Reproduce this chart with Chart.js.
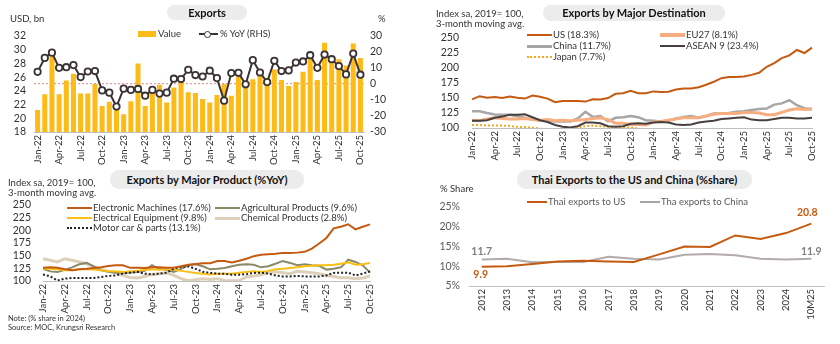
<!DOCTYPE html>
<html>
<head>
<meta charset="utf-8">
<script src="https://cdn.jsdelivr.net/npm/chart.js@4.4.1/dist/chart.umd.min.js"></script>
<style>
  body { margin: 0; width: 840px; height: 344px; background: #fff; position: relative; overflow: hidden; font-family: Lato, sans-serif; color: #222; }
  canvas { position: absolute; }
  .pill { position: absolute; background: #ececec; border-radius: 9px; font-weight: bold; font-size: 11px; text-align: center; color: #111; }
  .t { position: absolute; white-space: nowrap; font-size: 9.5px; line-height: 12px; color: #333; }
  .sw { position: absolute; }
</style>
</head>
<body>
<canvas id="c1" width="400" height="170" style="left:0;top:0"></canvas>
<canvas id="c2" width="420" height="170" style="left:420px;top:0"></canvas>
<canvas id="c3" width="400" height="179" style="left:0;top:165px"></canvas>
<canvas id="c4" width="420" height="179" style="left:420px;top:165px"></canvas>

<div class="pill" style="left:167px;top:5px;width:80px;height:15px;line-height:15px">Exports</div>
<div class="pill" style="left:543px;top:5px;width:182px;height:16px;line-height:16px">Exports by Major Destination</div>
<div class="pill" style="left:110px;top:170px;width:194px;height:19px;line-height:19px">Exports by Major Product (%YoY)</div>
<div class="pill" style="left:517px;top:170px;width:235px;height:19px;line-height:19px">Thai Exports to the US and China (%share)</div>

<div id="legends"></div>

<script>
// ---- categories ----
const months = ['Jan-22','Feb-22','Mar-22','Apr-22','May-22','Jun-22','Jul-22','Aug-22','Sep-22','Oct-22','Nov-22','Dec-22',
  'Jan-23','Feb-23','Mar-23','Apr-23','May-23','Jun-23','Jul-23','Aug-23','Sep-23','Oct-23','Nov-23','Dec-23',
  'Jan-24','Feb-24','Mar-24','Apr-24','May-24','Jun-24','Jul-24','Aug-24','Sep-24','Oct-24','Nov-24','Dec-24',
  'Jan-25','Feb-25','Mar-25','Apr-25','May-25','Jun-25','Jul-25','Aug-25','Sep-25','Oct-25']
const years = ['2012','2013','2014','2015','2016','2017','2018','2019','2020','2021','2022','2023','2024','10M25']

// ---- Exports (USD bn, %YoY) ----
const exportValue = [21.2,23.5,29.0,23.5,25.5,26.5,23.6,23.6,25.0,21.8,22.4,21.4,
  20.6,22.5,28.0,21.8,23.9,24.9,22.3,24.5,25.3,23.8,23.7,22.8,
  22.3,23.4,25.0,23.3,26.1,24.8,25.7,26.3,24.9,27.1,25.6,24.7,
  25.3,26.8,28.7,25.6,31.0,28.2,28.6,27.7,30.9,28.8]
const exportYoY = [7.6,16.3,19.6,10.1,10.5,11.8,4.3,7.8,8.1,-4.0,-5.4,-14.1,
  -2.9,-3.7,-3.1,-7.3,-3.7,-6.0,-5.4,3.3,3.1,8.9,5.6,4.7,
  8.3,3.7,-10.4,6.8,7.0,-0.2,14.9,7.2,1.2,14.5,8.1,8.5,
  13.4,14.1,18.0,10.1,18.4,15.5,11.2,6.0,19.0,5.8]

// ---- Exports by destination (index, 3mma) ----
const destUS = [147.6,153,150.4,151.5,150,152.6,150.4,149,154,152,149,143,
  145,145,145,144,148,147.6,150,157,158,162,158,158,
  161,160,160.5,164,166,166,168,172,177,183,185,185,
  186,188.5,192,202,208,216.4,221,230,225,234]
const destEU = [113,112,115,117,116,115,115,116,114,113,114,112,
  113,112,113,114,116,117,114,108,108,106,106,105,
  110,111,113,115,117,117,117,120,123,124,124,124,
  126,126,125,122,122,126,130,132,131,132]
const destChina = [128,128,125,122.4,122,122,119.6,117,114,113,113,111,
  111,111,116,127,118.5,120,111,117,118,120,118,113,
  112,111,112,116,118.5,120,117,120,124,124,125,127,
  128,130,131.6,132.5,139,141,146.5,138,133,131]
const destASEAN = [112,112,113,117,119,122,122,123,118,113,110,105,
  102,101,103,109,109,108,103,102,103,107,108,107,
  109,110,109,106,105,106,109,111,112,115,116,117,
  118,114,113,113,115,117,117,116,116,117]
const destJapan = [105,105,104,104,104,103.5,102,101.5,100.5,99,98,97,
  96,97,100.5,103,104,103,102,101,101,101,99,97,
  96,95,95,95,95,95,95,95,95,95,95,95,
  95,95,95,95,95,95,95,95,95,95]

// ---- Exports by product (index, 3mma) ----
const prodElectronic = [126,127,126,123,121,123,124,125.6,127,129.7,131,131,
  126,126,125.6,127,127,126,126,129,132,133.7,135,135,
  139.6,139.6,136.5,140,144,149,152,153,154,155.5,155.5,156,
  157.5,164,174,185,204,207,212,202,207,211.7]
const prodAgri = [124,119,118,122,127,133,135.7,129,121,118,116.5,116,
  117,118,120,131,124,122,118,124,131,133,129,123,
  124,125.6,129,132,133,132,127,129,134,139.6,135.7,131,
  133,131,130,122.5,124,127,142,137.6,131,116.5]
const prodElectrical = [124,124,123,121,121,123,123,122.5,121,119,119,118,
  119,120,122,123,122,123,122,120,118,116,114.5,113,
  114.5,114.5,114.5,116.5,118,119,118,120,123,124,125.6,127,
  129,130,131,131,132,134,137,132,133,135.7]
const prodChemical = [144,141,137.6,144,141,137.6,134,127.7,123,119,116,111,
  107,106,109,113,114.5,116,111,104.6,100.6,102.6,104.6,103,
  104.6,101,100.6,101,108,110,112.5,116.5,118,116.5,114.5,119,
  118,116.5,114.5,111,109,106.6,106.6,104.6,106,110]
const prodMotor = [113,109,101,104.6,106,106,106,106,108,110,111,114.5,
  116.5,118,114.5,113,114.5,116.5,124,127.7,129,124,118,116,
  114.5,114.5,112.5,112.5,113.5,116,116.5,114.5,111,109,109,110,
  109,109,109,111,116,116.5,116.5,111,114.5,119]

// ---- Share of Thai exports (%) ----
const shareUS = [9.9,10.0,10.6,11.2,11.4,11.2,11.1,13.0,15.0,14.9,17.8,16.9,18.4,20.8]
const shareChina = [11.7,11.9,11.0,11.1,11.1,12.4,11.9,11.7,12.9,13.1,12.8,11.9,11.7,11.9]

const FONT = 'Lato'
const C = {
  bar: '#fdbb17', yoy: '#3a3234', us: '#c55a11', eu: '#f6ad80', china: '#a6a6a6',
  asean: '#47403f', japan: '#f4a81d', electronic: '#c55a11', agri: '#8b8a68',
  electrical: '#fbbf14', chemical: '#ddd0b8', motor: '#222', axis: '#bfbfbf', tick: '#333'
}

Chart.defaults.font.family = FONT
Chart.defaults.animation = false
Chart.defaults.responsive = false
Chart.defaults.devicePixelRatio = 1
Chart.defaults.plugins.legend.display = false
Chart.defaults.plugins.tooltip.enabled = false

// ---- html legend + labels ----
const L = document.getElementById('legends')
function text(x, y, s, css) {
  const d = document.createElement('div')
  d.className = 't'
  d.style.left = x + 'px'
  d.style.top = (y - 6) + 'px'
  d.textContent = s
  if (css) d.style.cssText += css
  L.appendChild(d)
}
function swatch(x, y, w, color, thick, dotted) {
  const d = document.createElement('div')
  d.className = 'sw'
  d.style.left = x + 'px'
  d.style.top = (y - thick / 2) + 'px'
  d.style.width = w + 'px'
  if (dotted) {
    d.style.height = '0'
    d.style.borderTop = thick + 'px dotted ' + color
  } else {
    d.style.height = thick + 'px'
    d.style.background = color
  }
  L.appendChild(d)
}

// panel 1
text(10, 19, 'USD, bn')
text(378, 19, '%')
swatch(138, 34, 18, C.bar, 6)
text(158, 34, 'Value')
swatch(199, 34, 19, C.yoy, 2)
const mk = document.createElement('div')
mk.style.cssText = 'position:absolute;left:203.5px;top:30.5px;width:5px;height:5px;border:1.8px solid ' + C.yoy + ';border-radius:50%;background:#fff'
L.appendChild(mk)
text(220, 34, '% YoY (RHS)')

// panel 2
text(436, 14, 'Index sa, 2019= 100,')
text(436, 24, '3-month moving avg.')
swatch(527, 35, 25, C.us, 2)
text(553, 35, 'US (18.3%)')
swatch(527, 46, 25, C.china, 3)
text(553, 46, 'China (11.7%)')
swatch(527, 57, 25, C.japan, 2, true)
text(553, 57, 'Japan (7.7%)')
swatch(660, 35, 25, C.eu, 4)
text(686, 35, 'EU27 (8.1%)')
swatch(660, 46, 25, C.asean, 2)
text(686, 46, 'ASEAN 9 (23.4%)')

// panel 3
text(8, 183, 'Index sa, 2019= 100,')
text(8, 193, '3-month moving avg.')
swatch(67, 208, 25, C.electronic, 2)
text(93, 208, 'Electronic Machines (17.6%)')
swatch(67, 218, 25, C.electrical, 2)
text(93, 218, 'Electrical Equipment (9.8%)')
swatch(67, 228, 25, C.motor, 2, true)
text(93, 228, 'Motor car & parts (13.1%)')
swatch(215, 208, 25, C.agri, 2)
text(241, 208, 'Agricultural Products (9.6%)')
swatch(215, 218, 25, C.chemical, 3)
text(241, 218, 'Chemical Products (2.8%)')
text(8, 319, 'Note: (% share in 2024)', 'font-size:7.5px')
text(8, 328, 'Source: MOC, Krungsri Research', 'font-size:7.5px')

// panel 4
text(440, 189, '% Share')
swatch(527, 202, 20, C.us, 2)
text(548, 202, 'Thai exports to US', 'color:#595959')
swatch(640, 202, 20, C.china, 2)
text(661, 202, 'Tha exports to China', 'color:#595959')

// ---- shared axis pieces ----
function xAxis(height, every, labels, offset) {
  return {
    offset: offset,
    grid: { display: false, drawTicks: false },
    border: { color: C.axis },
    ticks: {
      autoSkip: false, minRotation: 90, maxRotation: 90, padding: 3,
      color: C.tick, font: { size: 9.5 },
      callback: (v, i) => (i % every === 0 ? labels[i] : null)
    },
    afterFit: s => { s.height = height }
  }
}
function yAxis(min, max, step, width, pad, extra) {
  return Object.assign({
    min: min, max: max,
    grid: { display: false, drawTicks: false },
    border: { display: false },
    ticks: { autoSkip: false, stepSize: step, padding: pad, color: C.tick, font: { size: 10.5 } },
    afterFit: s => { s.width = width }
  }, extra || {})
}
function line(data, color, width, dash) {
  return {
    type: 'line', data: data, borderColor: color, borderWidth: width,
    borderDash: dash || [], pointRadius: 0, tension: 0, fill: false
  }
}

// ---- Exports ----
new Chart(document.getElementById('c1'), {
  data: {
    labels: months,
    datasets: [
      {
        type: 'line', data: exportYoY, yAxisID: 'yR', order: 0,
        borderColor: C.yoy, borderWidth: 2,
        pointRadius: 3.2, pointBorderWidth: 1.8,
        pointBackgroundColor: '#fff', pointBorderColor: C.yoy
      },
      {
        type: 'bar', data: exportValue, yAxisID: 'yL', order: 1,
        backgroundColor: C.bar, barPercentage: 0.7, categoryPercentage: 1
      }
    ]
  },
  options: {
    layout: { padding: { top: 36, left: 0, right: 10, bottom: 0 } },
    scales: {
      x: xAxis(38, 3, months, true),
      yL: yAxis(18, 32, 2, 34, 8, { position: 'left' }),
      yR: yAxis(-30, 30, 10, 26, 6, {
        position: 'right',
        grid: {
          drawTicks: false, lineWidth: 1.2,
          color: c => (c.tick && c.tick.value === 0 ? '#e39a9a' : 'rgba(0,0,0,0)')
        },
        border: { display: false, dash: [2, 2] }
      })
    }
  }
})

// ---- Exports by Major Destination ----
new Chart(document.getElementById('c2'), {
  type: 'line',
  data: {
    labels: months,
    datasets: [
      line(destUS, C.us, 2),
      line(destASEAN, C.asean, 2),
      line(destEU, C.eu, 3),
      line(destChina, C.china, 2.5),
      line(destJapan, C.japan, 2, [2, 2])
    ]
  },
  options: {
    layout: { padding: { top: 38, left: 0, right: 28, bottom: 0 } },
    scales: {
      x: xAxis(42, 3, months, false),
      y: yAxis(100, 250, 25, 52, 13)
    }
  }
})

// ---- Exports by Major Product ----
new Chart(document.getElementById('c3'), {
  type: 'line',
  data: {
    labels: months,
    datasets: [
      line(prodElectronic, C.electronic, 2),
      line(prodMotor, C.motor, 2, [2, 2]),
      line(prodElectrical, C.electrical, 2),
      line(prodAgri, C.agri, 2),
      line(prodChemical, C.chemical, 3)
    ]
  },
  options: {
    layout: { padding: { top: 40, left: 0, right: 30, bottom: 0 } },
    scales: {
      x: xAxis(63, 3, months, false),
      y: yAxis(100, 250, 25, 43, 12)
    }
  }
})

// ---- Thai exports share ----
const endLabels = {
  id: 'endLabels',
  afterDatasetsDraw(chart, args, opts) {
    const ctx = chart.ctx
    ctx.save()
    ctx.font = 'bold 10.5px ' + FONT
    ctx.textAlign = 'center'
    ctx.textBaseline = 'middle'
    opts.items.forEach(it => {
      const ds = chart.data.datasets[it.ds]
      const pt = chart.getDatasetMeta(it.ds).data[it.i]
      ctx.fillStyle = it.color
      ctx.fillText(ds.data[it.i].toFixed(1), pt.x + it.dx, pt.y + it.dy)
    })
    ctx.restore()
  }
}
new Chart(document.getElementById('c4'), {
  type: 'line',
  data: {
    labels: years,
    datasets: [
      line(shareUS, C.us, 2),
      line(shareChina, '#b3abab', 2)
    ]
  },
  options: {
    layout: { padding: { top: 42, left: 0, right: 16, bottom: 0 } },
    plugins: {
      endLabels: {
        items: [
          { ds: 1, i: 0, dx: 0, dy: -8, color: '#7f7f7f' },
          { ds: 0, i: 0, dx: -1, dy: 8, color: C.us },
          { ds: 0, i: 13, dx: -4, dy: -11, color: C.us },
          { ds: 1, i: 13, dx: 0, dy: -7, color: '#7f7f7f' }
        ]
      }
    },
    scales: {
      x: xAxis(58, 1, years, true),
      y: yAxis(5, 25, 5, 49, 9, {
        ticks: { autoSkip: false, stepSize: 5, padding: 9, color: '#595959', font: { size: 10.5 }, callback: v => v + '%' }
      })
    }
  },
  plugins: [endLabels]
})
</script>
</body>
</html>
